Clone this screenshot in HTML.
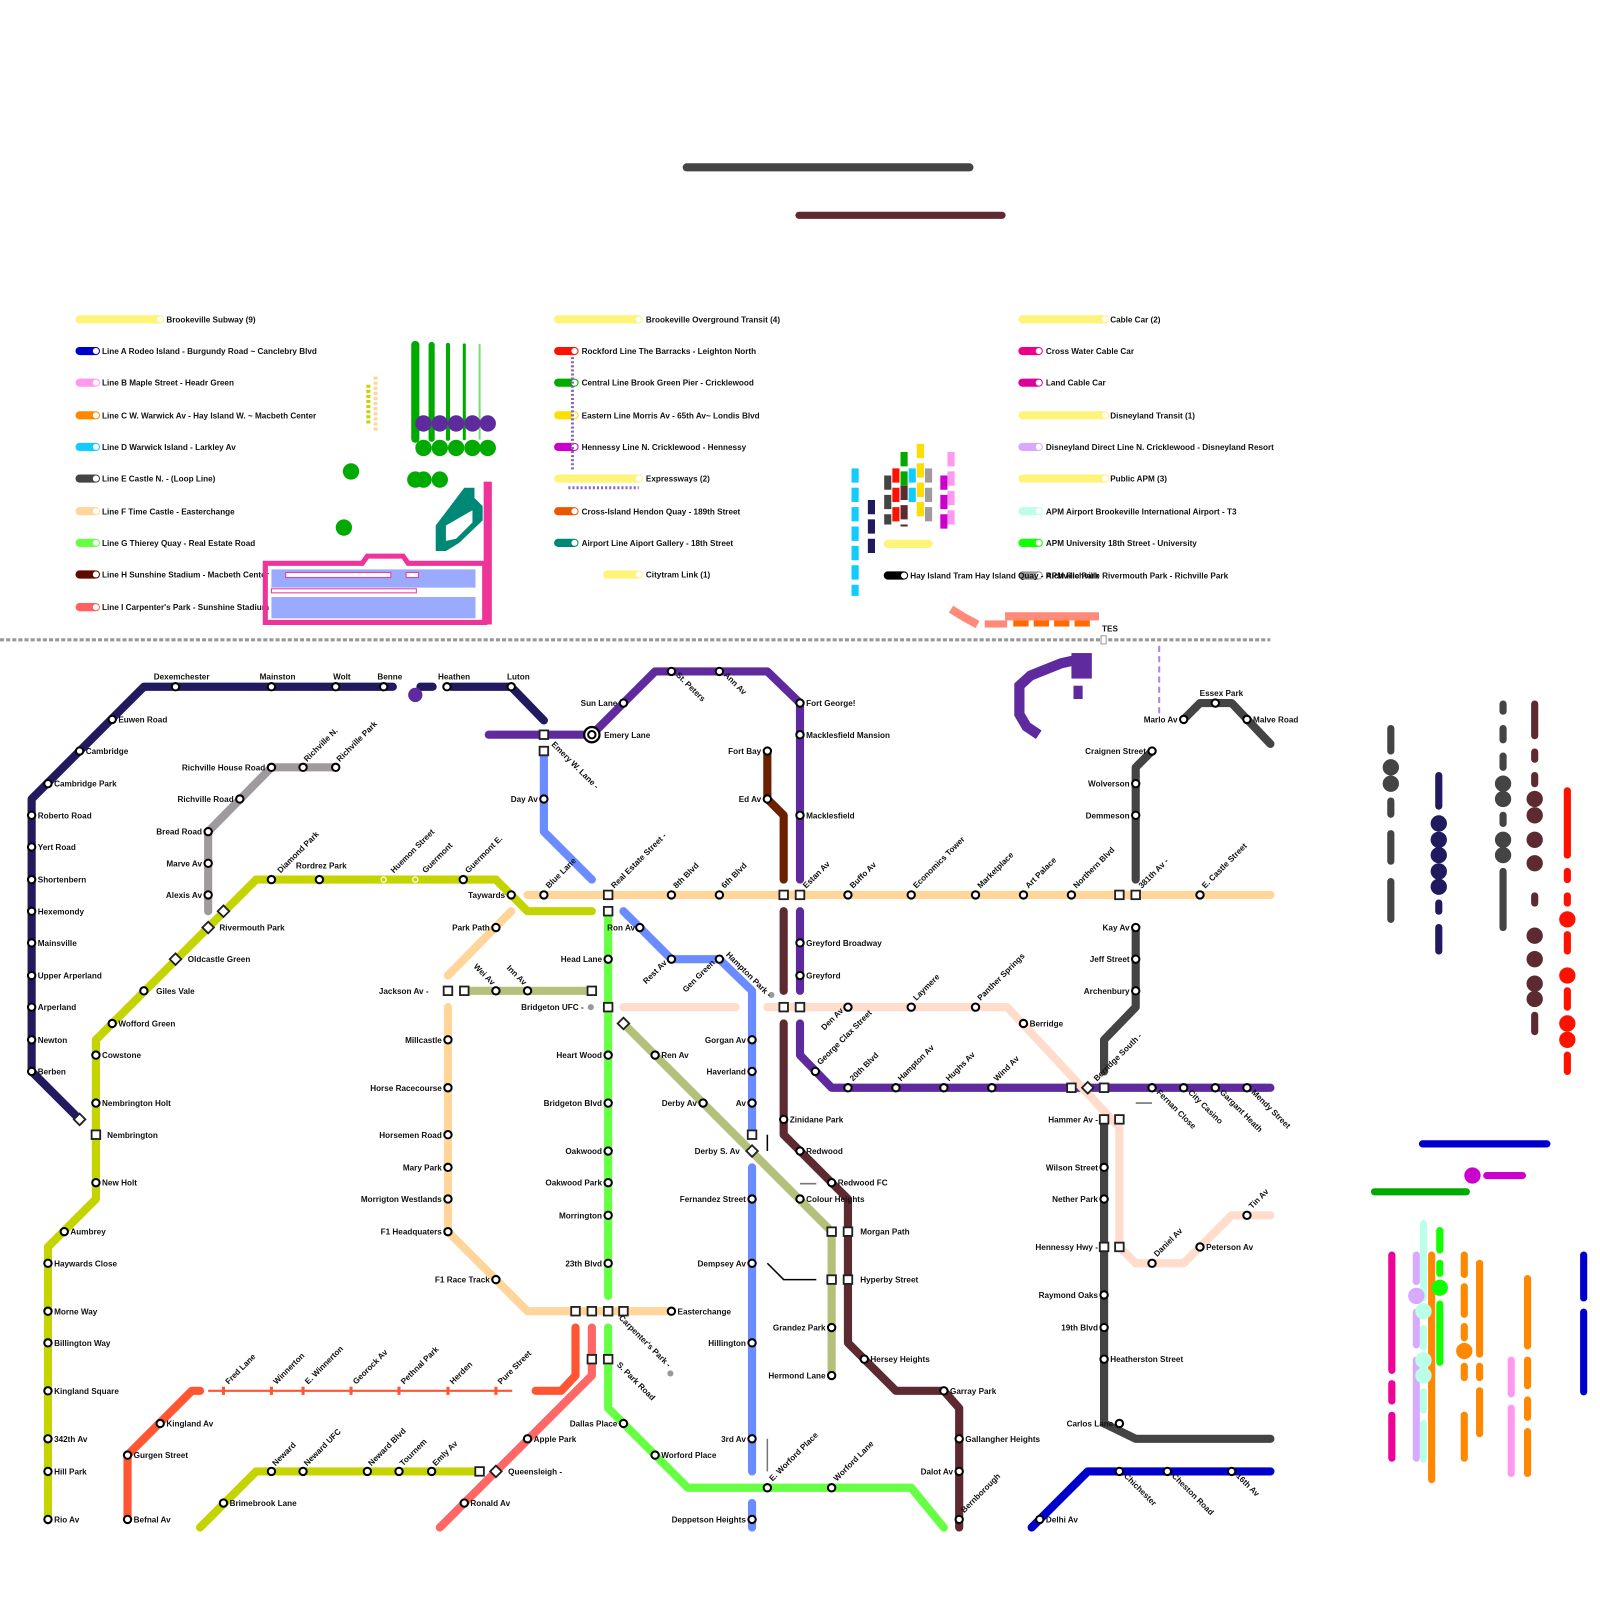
<!DOCTYPE html>
<html><head><meta charset="utf-8"><style>
html,body{margin:0;padding:0;background:#fff}
svg{display:block}
text{font-family:"Liberation Sans",sans-serif;font-weight:bold;font-size:8px;fill:#111}
.e{text-anchor:end}
.k{stroke-linecap:round;stroke-linejoin:round;fill:none}
</style></head><body>
<svg width="1600" height="1600" viewBox="0 0 1568 1568" xmlns="http://www.w3.org/2000/svg">
<defs>
<circle id="s" r="3.6" fill="#fff" stroke="#000" stroke-width="2"/>
<rect id="q" x="-4.2" y="-4.2" width="8.4" height="8.4" fill="#fff" stroke="#222" stroke-width="1.8"/>
<rect id="d" x="-4" y="-4" width="8" height="8" fill="#fff" stroke="#222" stroke-width="1.8" transform="rotate(45)"/>
<circle id="lw" r="3" fill="#fff"/>
</defs>

<!-- top bars -->
<line x1="673" y1="164" x2="950" y2="164" stroke="#444" stroke-width="8" class="k"/>
<line x1="783" y1="211" x2="982" y2="211" stroke="#5c2a30" stroke-width="7" class="k"/>

<!-- legend col1 -->
<g class="k" stroke-width="8">
<line x1="78" y1="313" x2="157" y2="313" stroke="#fff47a"/>
<line x1="78" y1="344" x2="94" y2="344" stroke="#0000cc"/>
<line x1="78" y1="375" x2="94" y2="375" stroke="#ff99f0"/>
<line x1="78" y1="407" x2="94" y2="407" stroke="#ff8800"/>
<line x1="78" y1="438" x2="94" y2="438" stroke="#11ccff"/>
<line x1="78" y1="469" x2="94" y2="469" stroke="#444"/>
<line x1="78" y1="501" x2="94" y2="501" stroke="#ffd59a"/>
<line x1="78" y1="532" x2="94" y2="532" stroke="#66ff44"/>
<line x1="78" y1="563" x2="94" y2="563" stroke="#5c0a00"/>
<line x1="78" y1="595" x2="94" y2="595" stroke="#ff6060"/>
<line x1="547" y1="313" x2="626" y2="313" stroke="#fff47a"/>
<line x1="547" y1="344" x2="563" y2="344" stroke="#ff1100"/>
<line x1="547" y1="375" x2="563" y2="375" stroke="#00aa00"/>
<line x1="547" y1="407" x2="563" y2="407" stroke="#ffdd00"/>
<line x1="547" y1="438" x2="563" y2="438" stroke="#cc00cc"/>
<line x1="547" y1="469" x2="626" y2="469" stroke="#fff47a"/>
<line x1="547" y1="501" x2="563" y2="501" stroke="#ee5500"/>
<line x1="547" y1="532" x2="563" y2="532" stroke="#008877"/>
<line x1="595" y1="563" x2="626" y2="563" stroke="#fff47a"/>
<line x1="1002" y1="313" x2="1083" y2="313" stroke="#fff47a"/>
<line x1="1002" y1="344" x2="1018" y2="344" stroke="#ee0088"/>
<line x1="1002" y1="375" x2="1018" y2="375" stroke="#dd0099"/>
<line x1="1002" y1="407" x2="1083" y2="407" stroke="#fff47a"/>
<line x1="1002" y1="438" x2="1018" y2="438" stroke="#d8aaff"/>
<line x1="1002" y1="469" x2="1083" y2="469" stroke="#fff47a"/>
<line x1="1002" y1="501" x2="1018" y2="501" stroke="#bbffe6"/>
<line x1="1002" y1="532" x2="1018" y2="532" stroke="#11ff00"/>
<line x1="870" y1="564" x2="886" y2="564" stroke="#000"/>
<line x1="1002" y1="564" x2="1018" y2="564" stroke="#999"/>
</g>
<g fill="#fff">
<circle cx="157" cy="313" r="3"/><circle cx="94" cy="344" r="3"/><circle cx="94" cy="375" r="3"/><circle cx="94" cy="407" r="3"/><circle cx="94" cy="438" r="3"/><circle cx="94" cy="469" r="3"/><circle cx="94" cy="501" r="3"/><circle cx="94" cy="532" r="3"/><circle cx="94" cy="563" r="3"/><circle cx="94" cy="595" r="3"/>
<circle cx="626" cy="313" r="3"/><circle cx="563" cy="344" r="3"/><circle cx="563" cy="375" r="3"/><circle cx="563" cy="407" r="3"/><circle cx="563" cy="438" r="3"/><circle cx="626" cy="469" r="3"/><circle cx="563" cy="501" r="3"/><circle cx="563" cy="532" r="3"/><circle cx="626" cy="563" r="3"/>
<circle cx="1083" cy="313" r="3"/><circle cx="1018" cy="344" r="3"/><circle cx="1018" cy="375" r="3"/><circle cx="1083" cy="407" r="3"/><circle cx="1018" cy="438" r="3"/><circle cx="1083" cy="469" r="3"/><circle cx="1018" cy="501" r="3"/><circle cx="1018" cy="532" r="3"/><circle cx="886" cy="564" r="3"/><circle cx="1018" cy="564" r="3"/>
</g>
<g>
<text x="163" y="316">Brookeville Subway (9)</text>
<text x="100" y="347">Line A Rodeo Island - Burgundy Road ~ Canclebry Blvd</text>
<text x="100" y="378">Line B Maple Street - Headr Green</text>
<text x="100" y="410">Line C W. Warwick Av - Hay Island W. ~ Macbeth Center</text>
<text x="100" y="441">Line D Warwick Island - Larkley Av</text>
<text x="100" y="472">Line E Castle N. - (Loop Line)</text>
<text x="100" y="504">Line F Time Castle - Easterchange</text>
<text x="100" y="535">Line G Thierey Quay - Real Estate Road</text>
<text x="100" y="566">Line H Sunshine Stadium - Macbeth Center</text>
<text x="100" y="598">Line I Carpenter's Park - Sunshine Stadium</text>
<text x="633" y="316">Brookeville Overground Transit (4)</text>
<text x="570" y="347">Rockford Line The Barracks - Leighton North</text>
<text x="570" y="378">Central Line Brook Green Pier - Cricklewood</text>
<text x="570" y="410">Eastern Line Morris Av - 65th Av~ Londis Blvd</text>
<text x="570" y="441">Hennessy Line N. Cricklewood - Hennessy</text>
<text x="633" y="472">Expressways (2)</text>
<text x="570" y="504">Cross-Island Hendon Quay - 189th Street</text>
<text x="570" y="535">Airport Line Aiport Gallery - 18th Street</text>
<text x="633" y="566">Citytram Link (1)</text>
<text x="1088" y="316">Cable Car (2)</text>
<text x="1025" y="347">Cross Water Cable Car</text>
<text x="1025" y="378">Land Cable Car</text>
<text x="1088" y="410">Disneyland Transit (1)</text>
<text x="1025" y="441">Disneyland Direct Line N. Cricklewood - Disneyland Resort</text>
<text x="1088" y="472">Public APM (3)</text>
<text x="1025" y="504">APM Airport Brookeville International Airport - T3</text>
<text x="1025" y="535">APM University 18th Street - University</text>
<text x="892" y="567">Hay Island Tram Hay Island Quay - Richville Park</text>
<text x="1025" y="567">APM Richville Rivermouth Park - Richville Park</text>
</g>

<!-- legend clutter -->
<line x1="561" y1="350" x2="561" y2="460" stroke="#8866bb" stroke-width="3" stroke-dasharray="2,2"/>
<line x1="557" y1="478" x2="626" y2="478" stroke="#8866bb" stroke-width="3" stroke-dasharray="2,2"/>
<g class="k">
<line x1="407" y1="338" x2="407" y2="430" stroke="#00aa00" stroke-width="8"/>
<line x1="423" y1="338" x2="423" y2="430" stroke="#00aa00" stroke-width="6"/>
<line x1="439" y1="338" x2="439" y2="430" stroke="#00aa00" stroke-width="4"/>
<line x1="455" y1="338" x2="455" y2="430" stroke="#00aa00" stroke-width="3"/>
<line x1="470" y1="338" x2="470" y2="430" stroke="#77dd77" stroke-width="2"/>
</g>
<g fill="#5e2a9e"><circle cx="415" cy="415" r="8"/><circle cx="431" cy="415" r="8"/><circle cx="447" cy="415" r="8"/><circle cx="463" cy="415" r="8"/><circle cx="478" cy="415" r="8"/></g>
<g fill="#00aa00"><circle cx="415" cy="439" r="8"/><circle cx="431" cy="439" r="8"/><circle cx="447" cy="439" r="8"/><circle cx="463" cy="439" r="8"/><circle cx="478" cy="439" r="8"/>
<circle cx="344" cy="462" r="8"/><circle cx="337" cy="517" r="8"/><circle cx="407" cy="470" r="8"/><circle cx="415" cy="470" r="8"/><circle cx="431" cy="470" r="8"/></g>
<line x1="361" y1="377" x2="361" y2="415" stroke="#c4d400" stroke-width="4" stroke-dasharray="3,2"/>
<line x1="368" y1="369" x2="368" y2="422" stroke="#ffd59a" stroke-width="4" stroke-dasharray="3,2"/>
<path d="M455,478 L465,478 L465,488 L473,496 L473,510 L450,532 L437,540 L427,540 L427,515 Z M437,515 L437,530 L447,528 L463,512 L463,500 Z" fill="#008877" fill-rule="evenodd"/>
<rect x="474" y="472" width="8" height="140" fill="#ee3399"/>
<path d="M260,552 L355,552 L360,545 L395,545 L400,552 L475,552 L475,610 L260,610 Z" fill="none" stroke="#ee3399" stroke-width="5"/>
<rect x="266" y="558" width="200" height="18" fill="#99aaff"/>
<rect x="266" y="585" width="200" height="21" fill="#99aaff"/>
<rect x="280" y="561" width="103" height="5" fill="#fff" stroke="#ee3399" stroke-width="1"/>
<rect x="398" y="561" width="12" height="5" fill="#fff" stroke="#ee3399" stroke-width="1"/>
<rect x="266" y="576" width="200" height="9" fill="#fff"/>
<rect x="266" y="577" width="142" height="4" fill="#fff" stroke="#ee3399" stroke-width="1"/>

<!-- center legend blocks -->
<g stroke-width="7" fill="none">
<line x1="838" y1="459" x2="838" y2="584" stroke="#11ccff" stroke-dasharray="14,5"/>
<line x1="854" y1="490" x2="854" y2="545" stroke="#221a5e" stroke-dasharray="14,5"/>
<line x1="870" y1="466" x2="870" y2="514" stroke="#444" stroke-dasharray="14,5"/>
<line x1="878" y1="459" x2="878" y2="514" stroke="#ff1100" stroke-dasharray="14,5"/>
<line x1="886" y1="443" x2="886" y2="476" stroke="#00aa00" stroke-dasharray="14,5"/>
<line x1="886" y1="476" x2="886" y2="516" stroke="#5c2a30" stroke-dasharray="14,5"/>
<line x1="894" y1="459" x2="894" y2="494" stroke="#11ccff" stroke-dasharray="14,5"/>
<line x1="902" y1="435" x2="902" y2="506" stroke="#ffdd00" stroke-dasharray="14,5"/>
<line x1="910" y1="459" x2="910" y2="514" stroke="#a09a9e" stroke-dasharray="14,5"/>
<line x1="925" y1="466" x2="925" y2="521" stroke="#cc00cc" stroke-dasharray="14,5"/>
<line x1="932" y1="443" x2="932" y2="517" stroke="#ff99f0" stroke-dasharray="14,5"/>
</g>
<line x1="870" y1="533" x2="910" y2="533" stroke="#fff47a" stroke-width="8" class="k"/>
<path d="M932,597 L945,605 L958,612" stroke="#ff8a7a" stroke-width="8" fill="none"/>
<rect x="965" y="608" width="22" height="7" fill="#ff8a7a"/>
<rect x="985" y="600" width="92" height="8" fill="#ff8a7a"/>
<g fill="#ff6a00"><rect x="993" y="608" width="15" height="6"/><rect x="1013" y="608" width="15" height="6"/><rect x="1033" y="608" width="15" height="6"/><rect x="1053" y="608" width="15" height="6"/></g>

<!-- divider -->
<line x1="0" y1="627" x2="1245" y2="627" stroke="#999" stroke-width="3" stroke-dasharray="4,2"/>
<text x="1080" y="619">TES</text>
<rect x="1079" y="623" width="5" height="8" fill="#fff" stroke="#999" stroke-width="1"/>

<!-- purple blob top right -->
<path d="M1058,646 L1040,650 L1025,656 L1010,662 L999,672 L999,700 L1006,712 L1018,720" stroke="#5e2a9e" stroke-width="10" fill="none"/>
<rect x="1052" y="672" width="9" height="13" fill="#5e2a9e"/>
<rect x="1050" y="640" width="20" height="25" fill="#5e2a9e"/>
<line x1="1136" y1="633" x2="1136" y2="700" stroke="#aa88dd" stroke-width="2" stroke-dasharray="6,4"/>

<!-- ===== MAP LINES ===== -->
<g class="k" stroke-width="8">
<!-- navy -->
<polyline points="78,1097 31,1050 31,783 141,673 385,673" stroke="#221a5e"/>
<line x1="412" y1="673" x2="424" y2="673" stroke="#221a5e"/>
<polyline points="442,673 501,673 533,706" stroke="#221a5e"/>
<!-- gray richville -->
<polyline points="204,893 204,815 266,752 329,752" stroke="#a09a9e"/>
<!-- yellow green -->
<polyline points="580,893 517,893 486,862 251,862 94,1019 94,1175 47,1222 47,1490" stroke="#c4d400"/>
<polyline points="196,1497 251,1442 470,1442" stroke="#c4d400"/>
<!-- peach -->
<line x1="517" y1="877" x2="1245" y2="877" stroke="#ffd59a"/>
<line x1="501" y1="893" x2="439" y2="956" stroke="#ffd59a"/>
<polyline points="439,987 439,1207 517,1285 658,1285" stroke="#ffd59a"/>
<!-- olive -->
<line x1="455" y1="971" x2="580" y2="971" stroke="#b3c17a"/>
<polyline points="611,1003 815,1207 815,1348" stroke="#b3c17a"/>
<!-- green G -->
<line x1="596" y1="893" x2="596" y2="1270" stroke="#66ff44"/>
<polyline points="596,1301 596,1380 674,1458 893,1458 925,1497" stroke="#66ff44"/>
<!-- blue light -->
<polyline points="533,736 533,815 580,862" stroke="#6b8cff"/>
<polyline points="611,893 658,940 705,940 737,971 737,1110" stroke="#6b8cff"/>
<line x1="737" y1="1144" x2="737" y2="1442" stroke="#6b8cff"/>
<line x1="737" y1="1473" x2="737" y2="1497" stroke="#6b8cff"/>
<!-- purple -->
<polyline points="479,720 580,720 642,658 752,658 784,689 784,862" stroke="#5e2a9e"/>
<line x1="784" y1="893" x2="784" y2="971" stroke="#5e2a9e"/>
<polyline points="784,1003 784,1034 815,1066 1245,1066" stroke="#5e2a9e"/>
<!-- brown -->
<polyline points="752,736 752,783 768,799 768,862" stroke="#6b2000"/>
<!-- maroon -->
<line x1="768" y1="893" x2="768" y2="971" stroke="#5c2a30"/>
<polyline points="768,1003 768,1112 831,1175 831,1316 878,1363 925,1363 940,1380 940,1497" stroke="#5c2a30"/>
<!-- pale peach -->
<line x1="611" y1="987" x2="721" y2="987" stroke="#ffdccc"/>
<polyline points="752,987 987,987 1097,1105 1097,1222 1113,1238 1160,1238 1207,1191 1245,1191" stroke="#ffdccc"/>
<!-- dark gray -->
<polyline points="1113,862 1113,752 1129,736" stroke="#444"/>
<polyline points="1113,909 1113,987 1082,1019 1082,1050" stroke="#444"/>
<polyline points="1082,1097 1082,1395 1113,1410 1245,1410" stroke="#444"/>
<polyline points="1160,705 1176,689 1207,689 1245,729" stroke="#444"/>
<!-- blue A -->
<polyline points="1011,1497 1066,1442 1245,1442" stroke="#0000cc"/>
<!-- cross island -->
<polyline points="125,1489 125,1426 188,1363 196,1363" stroke="#ff5533"/>
<polyline points="525,1363 550,1363 564,1348 564,1301" stroke="#ff5533"/>
<!-- salmon I -->
<polyline points="431,1497 580,1348 580,1301" stroke="#ff6666"/>
</g>
<line x1="204" y1="1363" x2="502" y2="1363" stroke="#ff5533" stroke-width="2"/>
<g stroke="#ff5533" stroke-width="3"><line x1="219" y1="1359" x2="219" y2="1367"/><line x1="266" y1="1359" x2="266" y2="1367"/><line x1="297" y1="1359" x2="297" y2="1367"/><line x1="344" y1="1359" x2="344" y2="1367"/><line x1="391" y1="1359" x2="391" y2="1367"/><line x1="439" y1="1359" x2="439" y2="1367"/><line x1="486" y1="1359" x2="486" y2="1367"/></g>
<circle cx="407" cy="681" r="7" fill="#5e2a9e"/>
<!-- thin marks -->
<g stroke="#000" stroke-width="1.5" fill="none">
<line x1="752" y1="1112" x2="752" y2="1128"/>
<polyline points="752,1238 768,1254 800,1254"/>
</g>
<g stroke="#777" stroke-width="1.5"><line x1="784" y1="1160" x2="800" y2="1160"/><line x1="752" y1="1410" x2="752" y2="1442"/><line x1="1113" y1="1081" x2="1129" y2="1081"/></g>
<circle cx="579" cy="987" r="3" fill="#999"/><circle cx="756" cy="975" r="3" fill="#999"/><circle cx="657" cy="1346" r="3" fill="#999"/>

<!-- ===== STATIONS ===== -->
<g>
<use href="#s" x="172" y="673"/><use href="#s" x="266" y="673"/><use href="#s" x="329" y="673"/><use href="#s" x="376" y="673"/><use href="#s" x="438" y="673"/><use href="#s" x="501" y="673"/>
<use href="#s" x="110" y="705"/><use href="#s" x="78" y="736"/><use href="#s" x="47" y="768"/>
<use href="#s" x="31" y="799"/><use href="#s" x="31" y="830"/><use href="#s" x="31" y="862"/><use href="#s" x="31" y="893"/><use href="#s" x="31" y="924"/><use href="#s" x="31" y="956"/><use href="#s" x="31" y="987"/><use href="#s" x="31" y="1019"/><use href="#s" x="31" y="1050"/><use href="#d" x="78" y="1097"/>
<use href="#s" x="266" y="752"/><use href="#s" x="297" y="752"/><use href="#s" x="329" y="752"/><use href="#s" x="235" y="783"/><use href="#s" x="204" y="815"/><use href="#s" x="204" y="846"/><use href="#s" x="204" y="877"/>
<use href="#s" x="266" y="862"/><use href="#s" x="313" y="862"/><circle cx="376" cy="862" r="2.5" fill="none" stroke="#fff" stroke-width="1.2"/><circle cx="407" cy="862" r="2.5" fill="none" stroke="#fff" stroke-width="1.2"/><use href="#s" x="454" y="862"/><use href="#s" x="501" y="877"/>
<use href="#d" x="219" y="893"/><use href="#d" x="204" y="909"/><use href="#d" x="172" y="940"/><use href="#s" x="141" y="971"/><use href="#s" x="110" y="1003"/><use href="#s" x="94" y="1034"/><use href="#s" x="94" y="1081"/><use href="#q" x="94" y="1112"/><use href="#s" x="94" y="1159"/><use href="#s" x="63" y="1207"/>
<use href="#s" x="47" y="1238"/><use href="#s" x="47" y="1285"/><use href="#s" x="47" y="1316"/><use href="#s" x="47" y="1363"/><use href="#s" x="47" y="1410"/><use href="#s" x="47" y="1442"/><use href="#s" x="47" y="1489"/>
<use href="#s" x="219" y="1473"/><use href="#s" x="266" y="1442"/><use href="#s" x="297" y="1442"/><use href="#s" x="360" y="1442"/><use href="#s" x="391" y="1442"/><use href="#s" x="423" y="1442"/><use href="#q" x="470" y="1442"/>
<use href="#s" x="533" y="877"/><use href="#q" x="596" y="877"/><use href="#s" x="658" y="877"/><use href="#s" x="705" y="877"/><use href="#q" x="768" y="877"/><use href="#q" x="784" y="877"/><use href="#s" x="831" y="877"/><use href="#s" x="893" y="877"/><use href="#s" x="956" y="877"/><use href="#s" x="1003" y="877"/><use href="#s" x="1050" y="877"/><use href="#q" x="1097" y="877"/><use href="#q" x="1113" y="877"/><use href="#s" x="1176" y="877"/>
<use href="#s" x="486" y="909"/>
<use href="#s" x="439" y="1019"/><use href="#s" x="439" y="1066"/><use href="#s" x="439" y="1112"/><use href="#s" x="439" y="1144"/><use href="#s" x="439" y="1175"/><use href="#s" x="439" y="1207"/><use href="#s" x="486" y="1254"/>
<use href="#q" x="564" y="1285"/><use href="#q" x="580" y="1285"/><use href="#q" x="596" y="1285"/><use href="#q" x="611" y="1285"/><use href="#s" x="658" y="1285"/>
<use href="#q" x="439" y="971"/><use href="#q" x="455" y="971"/><use href="#s" x="486" y="971"/><use href="#s" x="517" y="971"/><use href="#q" x="580" y="971"/>
<use href="#d" x="611" y="1003"/><use href="#s" x="642" y="1034"/><use href="#s" x="689" y="1081"/><use href="#d" x="737" y="1128"/><use href="#s" x="784" y="1175"/><use href="#q" x="815" y="1207"/><use href="#q" x="815" y="1254"/><use href="#s" x="815" y="1301"/><use href="#s" x="815" y="1348"/>
<use href="#q" x="596" y="893"/><use href="#q" x="596" y="987"/><use href="#s" x="596" y="940"/><use href="#s" x="596" y="1034"/><use href="#s" x="596" y="1081"/><use href="#s" x="596" y="1128"/><use href="#s" x="596" y="1159"/><use href="#s" x="596" y="1191"/><use href="#s" x="596" y="1238"/>
<use href="#q" x="580" y="1332"/><use href="#q" x="596" y="1332"/><use href="#s" x="611" y="1395"/><use href="#s" x="642" y="1426"/><use href="#s" x="752" y="1458"/><use href="#s" x="815" y="1458"/>
<use href="#q" x="533" y="720"/><use href="#q" x="533" y="736"/><use href="#s" x="533" y="783"/>
<use href="#s" x="627" y="909"/><use href="#s" x="658" y="940"/><use href="#s" x="705" y="940"/><use href="#s" x="737" y="1019"/><use href="#s" x="737" y="1050"/><use href="#s" x="737" y="1081"/><use href="#q" x="737" y="1112"/>
<use href="#s" x="737" y="1175"/><use href="#s" x="737" y="1238"/><use href="#s" x="737" y="1316"/><use href="#s" x="737" y="1410"/><use href="#s" x="737" y="1489"/>
<circle cx="580" cy="720" r="7.5" fill="#fff" stroke="#000" stroke-width="2.2"/><use href="#s" x="580" y="720"/>
<use href="#s" x="611" y="689"/><use href="#s" x="658" y="658"/><use href="#s" x="705" y="658"/><use href="#s" x="784" y="689"/><use href="#s" x="784" y="720"/><use href="#s" x="784" y="799"/>
<use href="#s" x="784" y="924"/><use href="#s" x="784" y="956"/>
<use href="#s" x="799" y="1050"/><use href="#s" x="831" y="1066"/><use href="#s" x="878" y="1066"/><use href="#s" x="925" y="1066"/><use href="#s" x="972" y="1066"/><use href="#q" x="1050" y="1066"/><use href="#d" x="1066" y="1066"/><use href="#q" x="1082" y="1066"/><use href="#s" x="1129" y="1066"/><use href="#s" x="1160" y="1066"/><use href="#s" x="1191" y="1066"/><use href="#s" x="1222" y="1066"/>
<use href="#s" x="752" y="736"/><use href="#s" x="752" y="783"/>
<use href="#s" x="768" y="1097"/><use href="#s" x="784" y="1128"/><use href="#s" x="815" y="1159"/><use href="#q" x="831" y="1207"/><use href="#q" x="831" y="1254"/><use href="#s" x="847" y="1332"/><use href="#s" x="925" y="1363"/><use href="#s" x="940" y="1410"/><use href="#s" x="940" y="1442"/><use href="#s" x="940" y="1489"/>
<use href="#q" x="768" y="987"/><use href="#q" x="784" y="987"/><use href="#s" x="831" y="987"/><use href="#s" x="893" y="987"/><use href="#s" x="956" y="987"/><use href="#s" x="1003" y="1003"/>
<use href="#q" x="1097" y="1097"/><use href="#q" x="1097" y="1222"/><use href="#s" x="1129" y="1238"/><use href="#s" x="1176" y="1222"/><use href="#s" x="1222" y="1191"/>
<use href="#s" x="1129" y="736"/><use href="#s" x="1113" y="768"/><use href="#s" x="1113" y="799"/><use href="#s" x="1113" y="909"/><use href="#s" x="1113" y="940"/><use href="#s" x="1113" y="971"/>
<use href="#q" x="1082" y="1097"/><use href="#s" x="1082" y="1144"/><use href="#s" x="1082" y="1175"/><use href="#q" x="1082" y="1222"/><use href="#s" x="1082" y="1269"/><use href="#s" x="1082" y="1301"/><use href="#s" x="1082" y="1332"/><use href="#s" x="1097" y="1395"/>
<use href="#s" x="1160" y="705"/><use href="#s" x="1191" y="689"/><use href="#s" x="1222" y="705"/>
<use href="#s" x="1019" y="1489"/><use href="#s" x="1097" y="1442"/><use href="#s" x="1144" y="1442"/><use href="#s" x="1207" y="1442"/>
<use href="#s" x="157" y="1395"/><use href="#s" x="125" y="1426"/><use href="#s" x="125" y="1489"/>
<use href="#s" x="455" y="1473"/><use href="#d" x="486" y="1442"/><use href="#s" x="517" y="1410"/>
</g>

<!-- ===== LABELS ===== -->
<g>
<text x="178" y="666" text-anchor="middle">Dexemchester</text><text x="272" y="666" text-anchor="middle">Mainston</text><text x="335" y="666" text-anchor="middle">Wolt</text><text x="382" y="666" text-anchor="middle">Benne</text><text x="445" y="666" text-anchor="middle">Heathen</text><text x="508" y="666" text-anchor="middle">Luton</text>
<text x="116" y="708">Euwen Road</text><text x="84" y="739">Cambridge</text><text x="53" y="771">Cambridge Park</text>
<text x="37" y="802">Roberto Road</text><text x="37" y="833">Yert Road</text><text x="37" y="865">Shortenbern</text><text x="37" y="896">Hexemondy</text><text x="37" y="927">Mainsville</text><text x="37" y="959">Upper Arperland</text><text x="37" y="990">Arperland</text><text x="37" y="1022">Newton</text><text x="37" y="1053">Berben</text>
<text x="260" y="755" class="e">Richville House Road</text><text x="229" y="786" class="e">Richville Road</text><text x="198" y="818" class="e">Bread Road</text><text x="198" y="849" class="e">Marve Av</text><text x="198" y="880" class="e">Alexis Av</text>
<text transform="translate(301,747) rotate(-45)">Richville N.</text><text transform="translate(333,747) rotate(-45)">Richville Park</text>
<text transform="translate(275,856) rotate(-45)">Diamond Park</text><text x="290" y="851">Rordrez Park</text><text transform="translate(386,856) rotate(-45)">Huemon Street</text><text transform="translate(417,856) rotate(-45)">Guermont</text><text transform="translate(459,856) rotate(-45)">Guermont E.</text>
<text x="495" y="880" class="e">Taywards</text>
<text x="215" y="912">Rivermouth Park</text><text x="184" y="943">Oldcastle Green</text><text x="153" y="974">Giles Vale</text><text x="116" y="1006">Wofford Green</text><text x="100" y="1037">Cowstone</text><text x="100" y="1084">Nembrington Holt</text><text x="105" y="1115">Nembrington</text><text x="100" y="1162">New Holt</text><text x="69" y="1210">Aumbrey</text>
<text x="53" y="1241">Haywards Close</text><text x="53" y="1288">Morne Way</text><text x="53" y="1319">Billington Way</text><text x="53" y="1366">Kingland Square</text><text x="53" y="1413">342th Av</text><text x="53" y="1445">Hill Park</text><text x="53" y="1492">Rio Av</text>
<text x="225" y="1476">Brimebrook Lane</text>
<text transform="translate(270,1437) rotate(-45)">Neward</text><text transform="translate(301,1437) rotate(-45)">Neward UFC</text><text transform="translate(364,1437) rotate(-45)">Neward Blvd</text><text transform="translate(395,1437) rotate(-45)">Tournem</text><text transform="translate(427,1437) rotate(-45)">Emly Av</text>
<text transform="translate(224,1357) rotate(-45)">Fred Lane</text><text transform="translate(271,1357) rotate(-45)">Winnerton</text><text transform="translate(302,1357) rotate(-45)">E. Winnerton</text><text transform="translate(349,1357) rotate(-45)">Georock Av</text><text transform="translate(396,1357) rotate(-45)">Pethnal Park</text><text transform="translate(444,1357) rotate(-45)">Herden</text><text transform="translate(491,1357) rotate(-45)">Pure Street</text>
<text x="163" y="1398">Kingland Av</text><text x="131" y="1429">Gurgen Street</text><text x="131" y="1492">Befnal Av</text>
<text x="461" y="1476">Ronald Av</text><text x="498" y="1445">Queensleigh -</text><text x="523" y="1413">Apple Park</text>
<text transform="translate(538,871) rotate(-45)">Blue Lane</text><text transform="translate(602,871) rotate(-45)">Real Estate Street -</text><text transform="translate(663,871) rotate(-45)">8th Blvd</text><text transform="translate(710,871) rotate(-45)">6th Blvd</text><text transform="translate(790,871) rotate(-45)">Estan Av</text><text transform="translate(836,871) rotate(-45)">Buffo Av</text><text transform="translate(898,871) rotate(-45)">Economics Tower</text><text transform="translate(961,871) rotate(-45)">Marketplace</text><text transform="translate(1008,871) rotate(-45)">Art Palace</text><text transform="translate(1055,871) rotate(-45)">Northern Blvd</text><text transform="translate(1119,871) rotate(-45)">381th Av -</text><text transform="translate(1181,871) rotate(-45)">E. Castle Street</text>
<text x="480" y="912" class="e">Park Path</text>
<text x="420" y="974" class="e">Jackson Av -</text><text transform="translate(482,966) rotate(45)" class="e">Wei Av</text><text transform="translate(513,966) rotate(45)" class="e">Inn Av</text><text x="572" y="990" class="e">Bridgeton UFC -</text>
<text x="433" y="1022" class="e">Millcastle</text><text x="433" y="1069" class="e">Horse Racecourse</text><text x="433" y="1115" class="e">Horsemen Road</text><text x="433" y="1147" class="e">Mary Park</text><text x="433" y="1178" class="e">Morrigton Westlands</text><text x="433" y="1210" class="e">F1 Headquaters</text><text x="480" y="1257" class="e">F1 Race Track</text><text x="664" y="1288">Easterchange</text>
<text x="590" y="943" class="e">Head Lane</text><text x="590" y="1037" class="e">Heart Wood</text><text x="590" y="1084" class="e">Bridgeton Blvd</text><text x="590" y="1131" class="e">Oakwood</text><text x="590" y="1162" class="e">Oakwood Park</text><text x="590" y="1194" class="e">Morrington</text><text x="590" y="1241" class="e">23th Blvd</text>
<text transform="translate(606,1292) rotate(45)">Carpenter's Park -</text><text transform="translate(604,1338) rotate(45)">S. Park Road</text>
<text x="605" y="1398" class="e">Dallas Place</text><text x="648" y="1429">Worford Place</text><text transform="translate(757,1452) rotate(-45)">E. Worford Place</text><text transform="translate(820,1452) rotate(-45)">Worford Lane</text>
<text transform="translate(540,730) rotate(45)">Emery W. Lane -</text><text x="527" y="786" class="e">Day Av</text>
<text x="595" y="912">Ron Av</text><text transform="translate(654,944) rotate(-45)" class="e">Rest Av</text><text transform="translate(701,944) rotate(-45)" class="e">Gen Green</text><text transform="translate(711,936) rotate(45)">Hampton Park -</text>
<text x="731" y="1022" class="e">Gorgan Av</text><text x="731" y="1053" class="e">Haverland</text><text x="731" y="1084" class="e">Av</text><text x="731" y="1178" class="e">Fernandez Street</text><text x="731" y="1241" class="e">Dempsey Av</text><text x="731" y="1319" class="e">Hillington</text><text x="731" y="1413" class="e">3rd Av</text><text x="731" y="1492" class="e">Deppetson Heights</text>
<text x="648" y="1037">Ren Av</text><text x="683" y="1084" class="e">Derby Av</text><text x="725" y="1131" class="e">Derby S. Av</text><text x="790" y="1178">Colour Heights</text><text x="843" y="1210">Morgan Path</text><text x="843" y="1257">Hyperby Street</text><text x="809" y="1304" class="e">Grandez Park</text><text x="809" y="1351" class="e">Hermond Lane</text>
<text x="605" y="692" class="e">Sun Lane</text><text x="592" y="723">Emery Lane</text><text transform="translate(662,662) rotate(45)">St. Peters</text><text transform="translate(709,662) rotate(45)">Ann Av</text>
<text x="790" y="692">Fort George!</text><text x="790" y="723">Macklesfield Mansion</text><text x="790" y="802">Macklesfield</text><text x="790" y="927">Greyford Broadway</text><text x="790" y="959">Greyford</text>
<text x="746" y="739" class="e">Fort Bay</text><text x="746" y="786" class="e">Ed Av</text>
<text transform="translate(827,991) rotate(-45)" class="e">Den Av</text><text transform="translate(898,981) rotate(-45)">Laymere</text><text transform="translate(961,981) rotate(-45)">Panther Springs</text><text x="1009" y="1006">Berridge</text>
<text transform="translate(804,1044) rotate(-45)">George Clax Street</text><text transform="translate(836,1060) rotate(-45)">20th Blvd</text><text transform="translate(883,1060) rotate(-45)">Hampton Av</text><text transform="translate(930,1060) rotate(-45)">Hughs Av</text><text transform="translate(977,1060) rotate(-45)">Wind Av</text><text transform="translate(1075,1060) rotate(-45)">Berridge South -</text>
<text transform="translate(1133,1071) rotate(45)">Fernan Close</text><text transform="translate(1164,1071) rotate(45)">City Casino</text><text transform="translate(1195,1071) rotate(45)">Gargant Heath</text><text transform="translate(1226,1071) rotate(45)">Mendy Street</text>
<text x="774" y="1100">Zinidane Park</text><text x="790" y="1131">Redwood</text><text x="821" y="1162">Redwood FC</text><text x="853" y="1335">Hersey Heights</text><text x="931" y="1366">Garray Park</text><text x="946" y="1413">Gallangher Heights</text><text x="934" y="1445" class="e">Dalot Av</text><text transform="translate(945,1483) rotate(-45)">Bernborough</text>
<text x="1076" y="1100" class="e">Hammer Av -</text><text x="1076" y="1147" class="e">Wilson Street</text><text x="1076" y="1178" class="e">Nether Park</text><text x="1076" y="1225" class="e">Hennessy Hwy -</text><text x="1076" y="1272" class="e">Raymond Oaks</text><text x="1076" y="1304" class="e">19th Blvd</text><text x="1088" y="1335">Heatherston Street</text><text x="1091" y="1398" class="e">Carlos Lane</text>
<text transform="translate(1134,1232) rotate(-45)">Daniel Av</text><text x="1182" y="1225">Peterson Av</text><text transform="translate(1227,1185) rotate(-45)">Tin Av</text>
<text x="1123" y="739" class="e">Craignen Street</text><text x="1107" y="771" class="e">Wolverson</text><text x="1107" y="802" class="e">Demmeson</text><text x="1107" y="912" class="e">Kay Av</text><text x="1107" y="943" class="e">Jeff Street</text><text x="1107" y="974" class="e">Archenbury</text>
<text x="1154" y="708" class="e">Marlo Av</text><text x="1197" y="682" text-anchor="middle">Essex Park</text><text x="1228" y="708">Malve Road</text>
<text x="1025" y="1492">Delhi Av</text><text transform="translate(1101,1447) rotate(45)">Chichester</text><text transform="translate(1148,1447) rotate(45)">Cheston Road</text><text transform="translate(1211,1447) rotate(45)">16th Av</text>
</g>

<!-- right dashed bars -->
<g class="k" stroke-width="7">
<g stroke="#444"><line x1="1363" y1="714" x2="1363" y2="736"/><line x1="1363" y1="785" x2="1363" y2="798"/><line x1="1363" y1="817" x2="1363" y2="844"/><line x1="1363" y1="864" x2="1363" y2="901"/>
<line x1="1473" y1="690" x2="1473" y2="697"/><line x1="1473" y1="714" x2="1473" y2="725"/><line x1="1473" y1="741" x2="1473" y2="752"/><line x1="1473" y1="799" x2="1473" y2="807"/><line x1="1473" y1="854" x2="1473" y2="909"/></g>
<g stroke="#221a5e"><line x1="1410" y1="760" x2="1410" y2="790"/><line x1="1410" y1="885" x2="1410" y2="893"/><line x1="1410" y1="909" x2="1410" y2="932"/></g>
<g stroke="#5c2a30"><line x1="1504" y1="690" x2="1504" y2="721"/><line x1="1504" y1="737" x2="1504" y2="744"/><line x1="1504" y1="760" x2="1504" y2="768"/><line x1="1504" y1="878" x2="1504" y2="885"/><line x1="1504" y1="995" x2="1504" y2="1011"/></g>
<g stroke="#ff1100"><line x1="1536" y1="775" x2="1536" y2="838"/><line x1="1536" y1="854" x2="1536" y2="862"/><line x1="1536" y1="878" x2="1536" y2="885"/><line x1="1536" y1="916" x2="1536" y2="932"/><line x1="1536" y1="971" x2="1536" y2="987"/><line x1="1536" y1="1034" x2="1536" y2="1050"/></g>
</g>
<g fill="#444"><circle cx="1363" cy="752" r="8"/><circle cx="1363" cy="768" r="8"/><circle cx="1473" cy="768" r="8"/><circle cx="1473" cy="783" r="8"/><circle cx="1473" cy="823" r="8"/><circle cx="1473" cy="838" r="8"/></g>
<g fill="#221a5e"><circle cx="1410" cy="807" r="8"/><circle cx="1410" cy="823" r="8"/><circle cx="1410" cy="838" r="8"/><circle cx="1410" cy="854" r="8"/><circle cx="1410" cy="869" r="8"/></g>
<g fill="#5c2a30"><circle cx="1504" cy="783" r="8"/><circle cx="1504" cy="799" r="8"/><circle cx="1504" cy="823" r="8"/><circle cx="1504" cy="846" r="8"/><circle cx="1504" cy="917" r="8"/><circle cx="1504" cy="940" r="8"/><circle cx="1504" cy="964" r="8"/><circle cx="1504" cy="979" r="8"/></g>
<g fill="#ff1100"><circle cx="1536" cy="901" r="8"/><circle cx="1536" cy="956" r="8"/><circle cx="1536" cy="1003" r="8"/><circle cx="1536" cy="1019" r="8"/></g>

<!-- bottom right bars -->
<g class="k" stroke-width="7">
<line x1="1394" y1="1121" x2="1516" y2="1121" stroke="#0000cc"/>
<line x1="1457" y1="1152" x2="1492" y2="1152" stroke="#cc00cc"/>
<line x1="1347" y1="1168" x2="1437" y2="1168" stroke="#00aa00"/>
<g stroke="#ee0099"><line x1="1364" y1="1230" x2="1364" y2="1343"/><line x1="1364" y1="1356" x2="1364" y2="1373"/><line x1="1364" y1="1387" x2="1364" y2="1429"/></g>
<g stroke="#d8aaff"><line x1="1388" y1="1230" x2="1388" y2="1256"/><line x1="1388" y1="1286" x2="1388" y2="1318"/><line x1="1388" y1="1333" x2="1388" y2="1429"/></g>
<g stroke="#bbffe6"><line x1="1395" y1="1199" x2="1395" y2="1272"/><line x1="1395" y1="1302" x2="1395" y2="1320"/><line x1="1395" y1="1364" x2="1395" y2="1382"/><line x1="1395" y1="1395" x2="1395" y2="1430"/></g>
<line x1="1403" y1="1230" x2="1403" y2="1450" stroke="#ff8800"/>
<g stroke="#11ff00"><line x1="1411" y1="1206" x2="1411" y2="1225"/><line x1="1411" y1="1238" x2="1411" y2="1248"/><line x1="1411" y1="1278" x2="1411" y2="1335"/></g>
<g stroke="#ff8800"><line x1="1435" y1="1230" x2="1435" y2="1249"/><line x1="1435" y1="1261" x2="1435" y2="1288"/><line x1="1435" y1="1300" x2="1435" y2="1311"/><line x1="1435" y1="1339" x2="1435" y2="1350"/><line x1="1435" y1="1387" x2="1435" y2="1429"/>
<line x1="1450" y1="1238" x2="1450" y2="1327"/><line x1="1450" y1="1339" x2="1450" y2="1350"/><line x1="1450" y1="1363" x2="1450" y2="1405"/>
<line x1="1497" y1="1253" x2="1497" y2="1319"/><line x1="1497" y1="1333" x2="1497" y2="1358"/><line x1="1497" y1="1372" x2="1497" y2="1389"/><line x1="1497" y1="1403" x2="1497" y2="1444"/></g>
<g stroke="#ff99f0"><line x1="1481" y1="1333" x2="1481" y2="1366"/><line x1="1481" y1="1380" x2="1481" y2="1444"/></g>
<g stroke="#0000cc"><line x1="1552" y1="1230" x2="1552" y2="1272"/><line x1="1552" y1="1286" x2="1552" y2="1364"/></g>
</g>
<circle cx="1443" cy="1152" r="8" fill="#cc00cc"/>
<circle cx="1388" cy="1270" r="8" fill="#d8aaff"/>
<circle cx="1395" cy="1285" r="8" fill="#bbffe6"/><circle cx="1395" cy="1333" r="8" fill="#bbffe6"/><circle cx="1395" cy="1348" r="8" fill="#bbffe6"/>
<circle cx="1411" cy="1262" r="8" fill="#11ff00"/>
<circle cx="1435" cy="1324" r="8" fill="#ff8800"/>
</svg>
</body></html>
